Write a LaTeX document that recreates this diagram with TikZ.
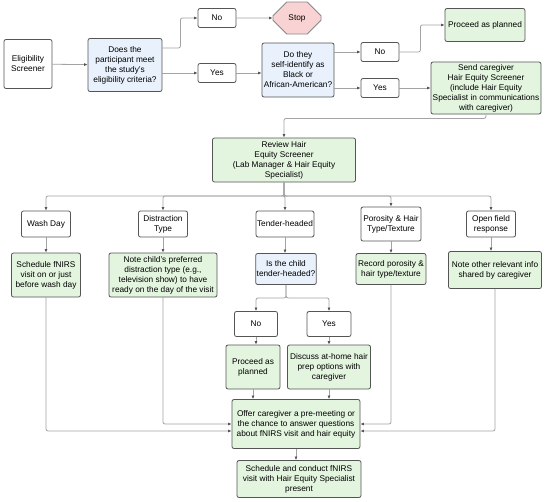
\documentclass[tikz,border=0pt]{standalone}
\usepackage{fontspec}
\setmainfont{Liberation Sans}
\usepackage{xcolor}
\definecolor{hairgreen}{HTML}{E3F5DF}
\definecolor{hairblue}{HTML}{E8F1FC}
\definecolor{hairpink}{HTML}{F9D3D3}
\definecolor{hairedge}{HTML}{555555}
\definecolor{hairline}{HTML}{A3A3A3}
\usepackage{tikz}
\usetikzlibrary{arrows.meta, positioning, shapes.misc, calc}

\begin{document}
\begin{tikzpicture}[
    x=1pt, y=-1pt,
    box/.style={draw=hairedge, line width=0.8pt, rounded corners=2pt, fill=white, align=center, inner sep=1pt, font=\fontsize{8.3}{10}\selectfont},
    qbox/.style={box, fill=hairblue},
    gbox/.style={box, fill=hairgreen},
    stopbox/.style={box, chamfered rectangle, chamfered rectangle xsep=10pt, chamfered rectangle ysep=9pt, rounded corners=0pt, fill=hairpink, draw=hairedge!70},
    arr/.style={draw=hairline, line width=0.8pt, rounded corners=2pt, -{Latex[length=3.5pt, width=3pt, color=hairedge]}},
]
\fill[white] (0,0) rectangle (546,501);

% screening
\node[box, minimum width=48, minimum height=49] (elig) at (28,64) {Eligibility\\Screener};
\node[qbox, minimum width=74, minimum height=53] (does) at (125,65) {Does the\\participant meet\\the study's\\eligibility criteria?};
\node[box, minimum width=38, minimum height=19] (no1) at (217,18) {No};
\node[box, minimum width=38, minimum height=19] (yes1) at (217,73) {Yes};
\node[stopbox, minimum width=48, minimum height=32] (stop) at (297,18) {Stop};
\node[qbox, minimum width=72, minimum height=54] (self) at (298,70) {Do they\\self-identify as\\Black or\\African-American?};
\node[box, minimum width=38, minimum height=19] (no2) at (380,52) {No};
\node[box, minimum width=38, minimum height=19] (yes2) at (380,88) {Yes};
\node[gbox, minimum width=80, minimum height=33] (plan1) at (485,25) {Proceed as planned};
\node[gbox, minimum width=110, minimum height=52] (send) at (486,88) {Send caregiver\\Hair Equity Screener\\(include Hair Equity\\Specialist in communications\\with caregiver)};

% review
\node[gbox, minimum width=143, minimum height=44] (review) at (284,160) {Review Hair\\Equity Screener\\(Lab Manager \& Hair Equity\\Specialist)};
\coordinate (split) at (284,196);

\node[box, minimum width=49, minimum height=26] (wash) at (46,224) {Wash Day};
\node[box, minimum width=49, minimum height=26] (distr) at (163,224) {Distraction\\Type};
\node[box, minimum width=57, minimum height=26] (tender) at (285,224) {Tender-headed};
\node[box, minimum width=60, minimum height=34] (poro) at (391,224) {Porosity \& Hair\\Type/Texture};
\node[box, minimum width=49, minimum height=26] (open) at (491,224) {Open field\\response};

\node[gbox, minimum width=69, minimum height=44] (sched) at (46,275) {Schedule fNIRS\\visit on or just\\before wash day};
\node[gbox, minimum width=108, minimum height=44] (note) at (163,275) {Note child's preferred\\distraction type (e.g.,\\television show) to have\\ready on the day of the visit};
\node[qbox, minimum width=58, minimum height=31] (child) at (286,269) {Is the child\\tender-headed?};
\node[gbox, minimum width=70, minimum height=31] (record) at (391,269) {Record porosity \&\\hair type/texture};
\node[gbox, minimum width=93, minimum height=37] (other) at (495,270) {Note other relevant info\\shared by caregiver};

\node[box, minimum width=43, minimum height=25] (no3) at (256,324) {No};
\node[box, minimum width=44, minimum height=25] (yes3) at (329,324) {Yes};
\node[gbox, minimum width=54, minimum height=44] (plan2) at (253,367) {Proceed as\\planned};
\node[gbox, minimum width=83, minimum height=44] (discuss) at (329,367) {Discuss at-home hair\\prep options with\\caregiver};

\node[gbox, minimum width=128, minimum height=49] (offer) at (296,424) {Offer caregiver a pre-meeting or\\the chance to answer questions\\about fNIRS visit and hair equity};
\node[gbox, minimum width=124, minimum height=37] (final) at (299,479) {Schedule and conduct fNIRS\\visit with Hair Equity Specialist\\present};

% connectors
\draw[arr] (elig) -- (does);
\draw[arr] ([yshift=17pt]does.east) -- ++(18,0) |- (no1);
\draw[arr] (does.east |- yes1) -- (yes1);
\draw[arr] (no1) -- (stop);
\draw[arr] (yes1) -- (yes1 -| self.west);
\draw[arr] (self.east |- no2) -- (no2);
\draw[arr] (self.east |- yes2) -- (yes2);
\draw[arr] (no2.east) -- ++(21,0) |- (plan1.west);
\draw[arr] (yes2) -- (yes2 -| send.west);
\draw[arr] (send.south) -- ++(0,4) -| (review.north);

\foreach \n in {wash, distr, tender, poro, open}
    \draw[arr] (review.south) -- (split) -| (\n.north);

\draw[arr] (wash) -- (sched);
\draw[arr] (distr) -- (note);
\draw[arr] (tender.south) -- (tender.south |- child.north);
\draw[arr] (poro) -- (record);
\draw[arr] (open.south) -- (open.south |- other.north);

\draw[arr] (child.south) -- ++(0,13) -| (no3.north);
\draw[arr] (child.south) -- ++(0,13) -| (yes3.north);
\draw[arr] (no3.south) -- (no3.south |- plan2.north);
\draw[arr] (yes3) -- (discuss);
\draw[arr] (plan2.south) -- (plan2.south |- offer.north);
\draw[arr] (discuss.south) -- (discuss.south |- offer.north);

\draw[arr] (sched.south) |- ([yshift=-7pt]offer.west);
\draw[arr] (note.south) |- (offer.west);
\draw[arr] (record.south) |- (offer.east);
\draw[arr] (other.south) |- ([yshift=-7pt]offer.east);
\draw[arr] (offer.south) -- (offer.south |- final.north);
\end{tikzpicture}
\end{document}
